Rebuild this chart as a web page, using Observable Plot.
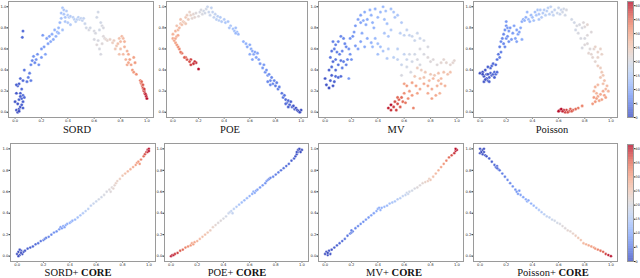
<!DOCTYPE html>
<html><head><meta charset="utf-8">
<script src="https://cdn.jsdelivr.net/npm/d3@7"></script>
<script src="https://cdn.jsdelivr.net/npm/@observablehq/plot@0.6"></script>
<style>
body{margin:0;background:#fff;}
#root{position:relative;width:640px;height:278px;overflow:hidden;}
.title{position:absolute;font-family:"Liberation Serif",serif;font-size:10.5px;line-height:10.5px;color:#111;white-space:nowrap;transform:translateX(-50%);}
</style></head><body><div id="root"></div><script>
// ---- data: [x, y, colour value] ----
const sord = [[0.01,0.02,1],[0.02,0.0,0],[0.03,0.03,1],[0.04,0.05,1],[0.02,0.08,1],[0.05,0.07,2],[0.06,0.1,2],[0.0,0.1,1],[0.03,0.12,2],[0.05,0.13,2],[0.04,0.18,2],[0.01,0.18,1],[0.02,0.25,2],[0.03,0.27,2],[0.05,0.22,3],[0.06,0.16,3],[0.04,0.32,3],[0.06,0.3,3],[0.07,0.4,4],[0.01,0.26,2],[0.04,0.15,2],[0.07,0.14,3],[0.03,0.01,0],[0.06,0.04,2],
[0.06,0.77,3],[0.055,0.71,3],
[0.09,0.29,4],[0.1,0.33,5],[0.12,0.3,5],[0.11,0.37,5],[0.12,0.45,6],[0.13,0.49,6],[0.15,0.47,6],[0.14,0.53,7],[0.16,0.5,7],[0.17,0.55,7],[0.18,0.45,7],[0.2,0.6,8],[0.2,0.52,8],[0.21,0.73,8],[0.22,0.62,8],[0.23,0.55,9],[0.25,0.65,9],[0.24,0.7,9],[0.26,0.72,9],[0.27,0.67,10],[0.28,0.74,10],[0.29,0.69,10],[0.3,0.78,11],[0.31,0.72,11],[0.32,0.76,11],[0.33,0.8,12],[0.34,0.85,12],[0.33,0.75,12],[0.35,0.89,13],[0.36,0.78,13],
[0.35,0.94,13],[0.36,0.99,14],[0.37,0.97,14],[0.38,0.9,14],[0.38,0.86,14],[0.39,0.96,15],[0.4,0.92,15],[0.41,0.9,15],[0.42,0.91,15],[0.42,0.83,15],[0.44,0.9,16],[0.45,0.88,16],[0.46,0.86,16],[0.47,0.88,16],[0.48,0.9,16],[0.49,0.88,17],[0.5,0.89,17],[0.51,0.87,17],[0.52,0.89,17],[0.53,0.84,18],[0.37,0.93,14],[0.4,0.85,15],
[0.54,0.8,19],[0.56,0.78,20],[0.57,0.8,19],[0.6,0.77,20],[0.61,0.75,20],[0.62,0.9,19],[0.63,0.95,19],[0.63,0.68,20],[0.64,0.6,20],[0.65,0.55,20],[0.66,0.65,21],[0.66,0.82,20],[0.64,0.78,19],[0.67,0.72,21],[0.68,0.7,21],[0.69,0.69,22],[0.62,0.64,21],[0.6,0.69,20],[0.65,0.85,19],[0.67,0.8,20],
[0.7,0.68,22],[0.72,0.69,23],[0.74,0.66,24],[0.75,0.68,24],[0.76,0.6,25],[0.77,0.63,25],[0.78,0.65,26],[0.79,0.7,26],[0.8,0.67,27],[0.8,0.6,26],[0.81,0.72,27],[0.82,0.7,27],[0.83,0.67,28],[0.82,0.55,27],[0.83,0.62,28],[0.84,0.5,28],[0.85,0.58,28],[0.85,0.45,29],[0.86,0.55,29],[0.87,0.5,30],[0.88,0.45,30],[0.89,0.4,31],[0.9,0.52,30],[0.9,0.38,31],[0.91,0.47,31],[0.92,0.36,32],[0.79,0.55,26],[0.86,0.47,29],
[0.95,0.3,34],[0.955,0.28,35],[0.96,0.27,35],[0.965,0.25,36],[0.97,0.23,37],[0.975,0.21,38],[0.98,0.2,38],[0.985,0.18,39],[0.99,0.17,40],[0.995,0.15,40],[1.0,0.13,41],[0.96,0.29,35],[0.97,0.26,36],[0.98,0.22,38]];

const poe = [[0.2,0.41,41],[0.18,0.47,40],[0.17,0.48,39],[0.16,0.46,39],[0.14,0.45,38],[0.14,0.5,38],[0.13,0.48,37],[0.11,0.5,37],[0.1,0.52,36],[0.09,0.52,36],[0.07,0.56,35],[0.06,0.57,34],[0.05,0.6,33],[0.04,0.62,32],[0.03,0.64,31],[0.02,0.66,30],[0.01,0.68,30],[0.0,0.7,29],[0.02,0.7,29],[0.03,0.72,29],[0.0,0.74,28],[0.02,0.77,28],[0.04,0.78,27],[0.05,0.8,27],[0.03,0.82,26],[0.06,0.84,26],[0.07,0.83,26],[0.08,0.86,25],[0.09,0.85,25],[0.1,0.9,25],[0.1,0.84,25],[0.12,0.88,24],[0.11,0.92,24],[0.06,0.88,26],[0.04,0.73,29],
[0.13,0.95,23],[0.14,0.92,23],[0.15,0.89,22],[0.16,0.93,22],[0.17,0.9,22],[0.18,0.94,21],[0.2,0.91,21],[0.21,0.95,20],[0.22,0.97,20],[0.23,0.93,20],[0.24,0.96,19],[0.25,0.94,19],[0.26,0.98,19],[0.27,1.0,18],[0.28,0.95,18],[0.29,0.92,18],[0.3,0.99,17],[0.31,0.95,17],[0.32,0.9,17],[0.33,0.93,17],[0.34,0.88,16],[0.35,0.91,16],[0.36,0.87,16],
[0.37,0.9,15],[0.38,0.86,15],[0.4,0.88,15],[0.41,0.85,14],[0.43,0.86,14],[0.45,0.82,14],[0.44,0.8,14],[0.47,0.79,13],[0.48,0.77,13],[0.49,0.8,13],[0.5,0.76,12],[0.51,0.74,12],[0.49,0.75,12],
[0.55,0.67,11],[0.57,0.65,11],[0.58,0.62,10],[0.6,0.64,10],[0.61,0.6,10],[0.62,0.58,10],[0.63,0.55,9],[0.64,0.57,9],[0.65,0.52,9],[0.66,0.56,9],[0.6,0.55,10],[0.62,0.5,9],[0.67,0.5,9],[0.68,0.46,8],[0.7,0.42,8],[0.71,0.45,8],[0.72,0.38,7],[0.73,0.4,7],[0.74,0.35,7],[0.75,0.36,7],[0.76,0.3,6],[0.77,0.33,6],[0.78,0.27,6],[0.79,0.3,6],[0.8,0.25,5],[0.81,0.28,5],[0.82,0.22,5],[0.83,0.24,5],[0.76,0.26,6],[0.74,0.29,6],
[0.85,0.18,4],[0.86,0.14,4],[0.87,0.16,4],[0.88,0.12,3],[0.89,0.09,3],[0.9,0.11,3],[0.91,0.07,2],[0.92,0.1,2],[0.93,0.05,2],[0.94,0.06,1],[0.95,0.03,1],[0.96,0.04,1],[0.97,0.02,0],[0.98,0.01,0],[1.0,0.02,0],[0.99,0.0,0],[0.9,0.05,2],[0.88,0.08,3]];

const mv = [[0.0,0.32,1],[0.01,0.26,1],[0.03,0.23,0],[0.04,0.3,2],[0.05,0.35,2],[0.06,0.25,1],[0.07,0.29,2],[0.08,0.34,3],[0.1,0.33,3],[0.12,0.34,3],[0.03,0.4,2],[0.05,0.43,3],[0.08,0.4,3],[0.1,0.45,4],[0.06,0.48,3],[0.04,0.52,4],[0.08,0.5,4],[0.12,0.49,4],[0.14,0.48,5],[0.16,0.45,5],[0.05,0.58,4],[0.07,0.6,5],[0.09,0.57,5],[0.11,0.55,5],[0.13,0.58,6],[0.08,0.64,5],[0.1,0.67,6],[0.12,0.72,6],[0.14,0.7,6],[0.15,0.65,6],[0.16,0.62,6],[0.18,0.6,7],[0.19,0.55,7],[0.17,0.5,6],[0.2,0.5,7],[0.18,0.32,8],[0.06,0.67,5],[0.13,0.42,5],
[0.19,0.7,7],[0.21,0.72,7],[0.22,0.76,8],[0.23,0.63,8],[0.25,0.6,9],[0.23,0.82,8],[0.25,0.88,9],[0.27,0.85,9],[0.27,0.92,9],[0.29,0.87,10],[0.3,0.95,10],[0.31,0.83,10],[0.32,0.88,10],[0.34,0.97,11],[0.35,0.92,11],[0.36,0.85,11],[0.38,0.98,11],[0.37,0.8,11],[0.4,0.9,12],[0.42,0.95,12],[0.44,1.0,12],[0.46,0.96,13],[0.45,0.88,13],[0.47,0.84,13],[0.5,0.98,13],[0.52,0.95,14],[0.53,0.9,14],[0.55,0.92,14],[0.28,0.75,10],[0.32,0.7,10],[0.35,0.66,11],[0.3,0.62,10],[0.27,0.67,9],
[0.38,0.7,12],[0.4,0.65,13],[0.42,0.62,13],[0.36,0.62,12],[0.4,0.55,13],[0.44,0.58,14],[0.45,0.75,14],[0.48,0.72,14],[0.5,0.78,15],[0.48,0.6,15],[0.47,0.51,15],[0.52,0.52,16],[0.55,0.6,16],[0.57,0.75,16],[0.6,0.73,17],[0.58,0.85,15],[0.62,0.78,17],[0.64,0.73,17],[0.66,0.72,18],[0.7,0.75,18],[0.72,0.7,18],[0.68,0.68,18],[0.6,0.55,17],[0.55,0.5,17],[0.58,0.45,18],[0.62,0.5,18],
[0.64,0.55,19],[0.66,0.48,19],[0.68,0.55,19],[0.7,0.5,20],[0.72,0.45,20],[0.65,0.38,20],[0.62,0.43,19],[0.75,0.55,20],[0.78,0.52,21],[0.8,0.48,21],[0.82,0.5,21],[0.85,0.45,21],[0.88,0.47,22],[0.9,0.5,22],[0.92,0.47,22],[0.95,0.45,22],[0.97,0.47,22],[0.98,0.49,22],[0.75,0.68,19],[0.78,0.62,20],[0.72,0.6,20],[0.58,0.35,20],
[0.7,0.42,24],[0.73,0.4,24],[0.76,0.38,25],[0.8,0.36,25],[0.83,0.35,25],[0.86,0.37,26],[0.9,0.38,26],[0.93,0.36,26],[0.95,0.38,26],[0.68,0.34,25],[0.72,0.32,26],[0.75,0.33,26],[0.79,0.3,27],[0.82,0.32,27],[0.86,0.3,27],[0.88,0.32,27],[0.91,0.25,28],[0.88,0.27,28],[0.85,0.25,28],[0.81,0.22,29],[0.78,0.25,29],[0.75,0.27,29],[0.72,0.22,29],[0.69,0.25,30],[0.66,0.28,30],[0.64,0.2,31],[0.62,0.25,31],[0.6,0.18,32],[0.66,0.16,31],[0.7,0.18,30],[0.78,0.18,29],[0.81,0.13,30],[0.84,0.16,29],[0.87,0.18,28],[0.63,0.13,32],[0.6,0.27,30],
[0.5,0.07,41],[0.48,0.04,40],[0.5,0.02,39],[0.52,0.05,38],[0.53,0.1,37],[0.55,0.08,37],[0.56,0.12,36],[0.54,0.02,38],[0.57,0.05,36],[0.58,0.14,35],[0.59,0.1,35],[0.55,0.14,35],[0.61,0.09,34],[0.67,0.04,33]];

const poisson = [[0.0,0.37,0],[0.02,0.38,0],[0.03,0.34,1],[0.04,0.4,1],[0.05,0.36,1],[0.06,0.3,1],[0.07,0.33,2],[0.08,0.37,2],[0.09,0.35,2],[0.1,0.36,2],[0.11,0.38,3],[0.12,0.36,3],[0.05,0.32,1],[0.03,0.29,1],[0.07,0.29,2],[0.08,0.42,2],[0.09,0.44,3],[0.1,0.46,3],[0.12,0.45,3],[0.06,0.43,2],[0.04,0.31,1],[0.11,0.33,2],[0.13,0.38,3],[0.02,0.36,0],[0.06,0.36,1],
[0.13,0.5,4],[0.14,0.55,4],[0.15,0.52,5],[0.16,0.57,5],[0.15,0.62,5],[0.16,0.67,6],[0.17,0.7,6],[0.18,0.65,6],[0.19,0.62,6],[0.2,0.7,7],[0.21,0.72,7],[0.22,0.67,7],[0.18,0.74,6],[0.19,0.78,7],[0.2,0.82,7],[0.2,0.86,8],[0.21,0.8,8],[0.22,0.77,8],[0.23,0.8,8],[0.25,0.75,8],[0.24,0.69,8],[0.27,0.7,9],[0.28,0.67,9],[0.29,0.74,9],[0.3,0.76,9],[0.31,0.8,10],[0.32,0.86,10],[0.33,0.88,10],[0.32,0.69,10],[0.34,0.87,11],[0.26,0.82,9],[0.28,0.78,9],
[0.35,0.9,11],[0.36,0.95,12],[0.37,0.88,12],[0.39,0.92,12],[0.4,0.9,13],[0.41,0.87,13],[0.42,0.95,13],[0.43,0.92,14],[0.44,0.97,14],[0.45,0.93,14],[0.46,0.97,15],[0.47,0.9,15],[0.48,0.94,15],[0.49,0.97,15],[0.5,0.92,16],[0.51,0.96,16],[0.52,0.99,16],[0.53,0.93,16],[0.54,1.0,17],[0.55,0.95,17],[0.56,0.92,17],[0.57,0.97,17],[0.59,0.94,18],[0.6,0.99,18],[0.61,0.93,18],[0.62,0.97,18],[0.63,0.95,19],[0.64,0.98,19],[0.65,0.92,19],[0.66,0.97,20],[0.38,0.86,12],[0.45,0.88,14],
[0.7,0.88,19],[0.72,0.85,19],[0.74,0.82,20],[0.76,0.83,20],[0.73,0.78,19],[0.75,0.75,20],[0.78,0.8,20],[0.79,0.85,21],[0.8,0.81,21],[0.77,0.7,20],[0.8,0.7,20],[0.82,0.73,21],[0.8,0.64,21],[0.78,0.61,20],[0.82,0.65,21],[0.84,0.6,21],[0.83,0.56,22],[0.85,0.55,22],[0.87,0.6,22],[0.88,0.62,23],[0.9,0.57,23],[0.86,0.52,22],[0.88,0.48,22],[0.9,0.52,23],[0.92,0.6,23],[0.93,0.55,23],[0.85,0.76,21],[0.82,0.83,22],
[0.9,0.44,24],[0.92,0.42,24],[0.93,0.38,25],[0.94,0.35,25],[0.92,0.33,25],[0.95,0.3,26],[0.97,0.25,27],[0.96,0.22,27],[0.98,0.2,28],[0.94,0.27,26],[0.9,0.26,27],[0.88,0.24,28],[0.87,0.2,28],[0.89,0.18,28],[0.9,0.15,29],[0.92,0.17,29],[0.94,0.2,29],[0.95,0.16,30],[0.93,0.12,30],[0.91,0.11,30],[0.88,0.1,31],[0.87,0.14,31],[0.86,0.08,31],[0.96,0.14,30],[0.89,0.13,30],
[0.78,0.06,33],[0.75,0.04,34],[0.73,0.03,35],[0.71,0.02,36],[0.69,0.03,36],[0.68,0.01,37],[0.66,0.02,38],[0.65,0.0,38],[0.64,0.02,39],[0.63,0.01,40],[0.61,0.02,40],[0.6,0.01,41],[0.62,0.03,41],[0.67,0.0,37],[0.7,0.01,36]];

const sordCore = [[0.0,0.02,0],[0.01,0.04,0],[0.02,0.01,0],[0.03,0.05,1],[0.04,0.02,0],[0.02,0.06,1],[0.05,0.04,1],[0.01,0.0,0],[0.03,0.03,0],[0.06,0.05,1],[0.08,0.07,2],[0.1,0.08,2],[0.12,0.09,3],[0.14,0.11,3],[0.16,0.12,4],[0.18,0.14,4],[0.2,0.15,5],[0.21,0.16,5],[0.22,0.17,5],[0.24,0.18,6],[0.26,0.2,6],[0.28,0.22,7],[0.3,0.23,7],[0.32,0.25,8],[0.33,0.27,8],[0.34,0.26,8],[0.35,0.28,9],[0.36,0.27,9],[0.37,0.29,9],[0.38,0.3,10],[0.4,0.31,10],[0.41,0.32,11],[0.42,0.33,11],[0.44,0.34,12],[0.46,0.36,13],[0.48,0.38,14],[0.5,0.4,15],[0.52,0.42,16],[0.54,0.44,16],[0.56,0.47,17],[0.58,0.49,18],[0.6,0.51,18],[0.62,0.53,19],[0.64,0.55,19],[0.66,0.57,20],[0.68,0.6,20],[0.7,0.62,21],[0.71,0.6,21],[0.72,0.64,21],[0.73,0.63,22],[0.74,0.66,22],[0.75,0.68,23],[0.76,0.7,23],[0.78,0.72,24],[0.8,0.75,25],[0.82,0.77,26],[0.84,0.79,27],[0.86,0.81,28],[0.88,0.83,29],[0.9,0.85,30],[0.91,0.87,31],[0.92,0.88,31],[0.93,0.86,31],[0.94,0.9,33],[0.96,0.93,35],[0.97,0.95,37],[0.98,0.97,38],[0.99,0.99,40],[1.0,1.0,41],[0.99,0.97,39],[1.0,0.98,41]];

const poeCore = [[0.0,0.0,41],[0.01,0.01,41],[0.02,0.01,40],[0.03,0.02,39],[0.05,0.03,38],[0.07,0.05,36],[0.09,0.06,35],[0.11,0.08,33],[0.13,0.09,32],[0.15,0.1,31],[0.16,0.12,30],[0.17,0.11,30],[0.18,0.13,29],[0.2,0.14,28],[0.22,0.16,27],[0.24,0.18,26],[0.26,0.2,26],[0.28,0.22,25],[0.3,0.24,24],[0.32,0.27,23],[0.34,0.29,22],[0.36,0.31,21],[0.38,0.33,21],[0.4,0.35,20],[0.42,0.37,19],[0.44,0.4,18],[0.45,0.41,18],[0.46,0.42,17],[0.47,0.4,17],[0.48,0.44,16],[0.5,0.46,15],[0.52,0.48,14],[0.54,0.5,13],[0.56,0.52,12],[0.58,0.54,12],[0.6,0.56,11],[0.62,0.58,10],[0.63,0.6,10],[0.64,0.59,10],[0.65,0.61,9],[0.66,0.62,9],[0.68,0.64,8],[0.7,0.66,8],[0.72,0.68,7],[0.73,0.7,7],[0.74,0.71,7],[0.75,0.72,6],[0.76,0.73,6],[0.78,0.74,6],[0.8,0.76,5],[0.82,0.78,5],[0.84,0.8,4],[0.86,0.82,4],[0.88,0.84,3],[0.9,0.86,3],[0.92,0.89,2],[0.94,0.91,2],[0.95,0.93,1],[0.96,0.95,1],[0.97,0.97,0],[0.98,0.98,0],[0.99,0.99,0],[1.0,0.99,0],[0.97,0.99,0],[0.99,0.97,0],[0.96,0.97,1],[0.98,1.0,0]];

const mvCore = [[0.0,0.02,0],[0.01,0.04,0],[0.02,0.01,0],[0.03,0.05,1],[0.04,0.02,1],[0.02,0.03,0],[0.05,0.06,1],[0.07,0.08,2],[0.09,0.1,2],[0.11,0.12,3],[0.13,0.14,3],[0.15,0.16,4],[0.17,0.19,4],[0.19,0.21,5],[0.2,0.22,5],[0.21,0.23,5],[0.2,0.24,5],[0.23,0.26,6],[0.25,0.28,6],[0.27,0.3,7],[0.29,0.32,7],[0.31,0.34,8],[0.33,0.36,8],[0.35,0.38,9],[0.37,0.4,9],[0.39,0.42,10],[0.4,0.44,10],[0.41,0.45,10],[0.42,0.43,11],[0.43,0.45,11],[0.45,0.46,12],[0.47,0.47,12],[0.49,0.49,13],[0.51,0.5,14],[0.53,0.51,14],[0.55,0.53,15],[0.57,0.54,16],[0.59,0.56,17],[0.61,0.57,17],[0.62,0.59,18],[0.63,0.58,18],[0.64,0.6,19],[0.66,0.61,19],[0.68,0.63,20],[0.7,0.64,21],[0.72,0.66,21],[0.74,0.68,22],[0.76,0.69,23],[0.78,0.7,24],[0.79,0.72,24],[0.8,0.71,25],[0.82,0.74,26],[0.84,0.77,27],[0.86,0.8,28],[0.88,0.83,30],[0.9,0.86,31],[0.92,0.89,33],[0.94,0.92,35],[0.96,0.94,37],[0.98,0.96,39],[0.99,0.98,40],[1.0,0.99,41],[0.99,1.0,41]];

const poissonCore = [[0.0,1.0,0],[0.01,0.98,0],[0.02,0.99,0],[0.03,0.97,0],[0.0,0.96,0],[0.02,0.95,1],[0.04,0.94,1],[0.01,0.97,0],[0.03,1.0,0],[0.05,0.93,1],[0.07,0.91,2],[0.09,0.88,2],[0.11,0.85,3],[0.12,0.83,3],[0.13,0.84,3],[0.14,0.81,4],[0.15,0.8,4],[0.13,0.82,3],[0.17,0.77,5],[0.19,0.74,5],[0.21,0.71,6],[0.23,0.68,6],[0.25,0.65,7],[0.27,0.62,7],[0.28,0.6,8],[0.29,0.58,8],[0.3,0.61,8],[0.31,0.57,9],[0.33,0.55,9],[0.35,0.53,10],[0.36,0.51,10],[0.37,0.52,10],[0.39,0.49,11],[0.41,0.47,12],[0.43,0.45,13],[0.45,0.43,14],[0.47,0.41,15],[0.49,0.39,16],[0.51,0.37,17],[0.53,0.36,17],[0.55,0.34,18],[0.57,0.33,19],[0.59,0.31,19],[0.61,0.3,20],[0.63,0.28,21],[0.65,0.26,21],[0.67,0.24,22],[0.69,0.23,22],[0.71,0.21,23],[0.73,0.19,24],[0.75,0.17,25],[0.77,0.15,26],[0.79,0.12,27],[0.81,0.11,28],[0.83,0.1,29],[0.85,0.09,30],[0.87,0.08,31],[0.88,0.07,31],[0.9,0.06,33],[0.92,0.05,35],[0.94,0.04,36],[0.96,0.02,38],[0.98,0.01,40],[1.0,0.0,41]];

const topTitles = ["SORD", "POE", "MV", "Poisson"];
const bottomTitles = ["SORD+ <b>CORE</b>", "POE+ <b>CORE</b>", "MV+ <b>CORE</b>", "Poisson+ <b>CORE</b>"];
const axisTicks = [0, 0.2, 0.4, 0.6, 0.8, 1.0];
const colorTicks = [0, 5, 10, 15, 20, 25, 30, 35, 40];
const colorMax = 41.5;

// ---- rendering ----
const coolwarm = d3.interpolateRgbBasis(["#3b4cc0","#6282ea","#8db0fe","#b8d0f9","#dddddd","#f5c4ad","#f49a7b","#de604d","#b40426"]);
const root = document.getElementById("root");
const colorScale = {type: "linear", domain: [0, colorMax], interpolate: coolwarm};
const axisStyle = {fontSize: "3.7px", fontFamily: "DejaVu Sans", color: "#222", background: "transparent", overflow: "visible"};

function place(el, left, top) {
  el.style.position = "absolute";
  el.style.left = left + "px";
  el.style.top = top + "px";
  root.appendChild(el);
}

function panel(data, left, top, right, bottom, r) {
  const mL = 8, mR = 2, mT = 2, mB = 7;
  const p = Plot.plot({
    width: right - left + mL + mR, height: bottom - top + mT + mB,
    marginLeft: mL, marginRight: mR, marginTop: mT, marginBottom: mB,
    style: axisStyle,
    x: {domain: [-0.05, 1.05], ticks: axisTicks, tickFormat: d3.format(".1f"), label: null, tickSize: 1.5, tickPadding: 0.8},
    y: {domain: [-0.05, 1.05], ticks: axisTicks, tickFormat: d3.format(".1f"), label: null, tickSize: 1.5, tickPadding: 0.6},
    color: colorScale,
    marks: [
      Plot.dot(data, {x: d => d[0], y: d => d[1], fill: d => d[2], r, stroke: "white", strokeWidth: 0.35}),
      Plot.frame({stroke: "#9a9a9a"})
    ]
  });
  place(p, left - mL, top - mT);
}

function colorbar(left, top, right, bottom) {
  const mL = 0, mR = 8, mT = 2, mB = 2;
  const bands = d3.range(0, colorMax, 0.25);
  const p = Plot.plot({
    width: right - left + mL + mR, height: bottom - top + mT + mB,
    marginLeft: mL, marginRight: mR, marginTop: mT, marginBottom: mB,
    style: {...axisStyle, fontSize: "3.4px"},
    y: {domain: [0, colorMax], ticks: colorTicks, axis: "right", label: null, tickSize: 1.5, tickPadding: 0.5},
    color: colorScale,
    marks: [
      Plot.rectY(bands, {y1: d => d, y2: d => d + 0.25, fill: d => d + 0.125}),
      Plot.frame({stroke: "#9a9a9a"})
    ]
  });
  place(p, left - mL, top - mT);
}

const topData = [sord, poe, mv, poisson];
const botData = [sordCore, poeCore, mvCore, poissonCore];
const topL = [8, 166, 318, 473], topR = [153, 307, 463, 617];
const botL = [10, 164, 318, 473], botR = [155, 308, 463, 617];
const topC = [77, 230, 396, 552], botC = [78, 237, 394, 553];

topData.forEach((d, i) => panel(d, topL[i], 1, topR[i], 117, 1.6));
botData.forEach((d, i) => panel(d, botL[i], 143, botR[i], 261, 1.4));
colorbar(627, 1, 633, 117);
colorbar(627, 144, 633, 261);

function title(html, cx, top) {
  const t = document.createElement("div");
  t.className = "title";
  t.innerHTML = html;
  t.style.left = cx + "px";
  t.style.top = top + "px";
  root.appendChild(t);
}
topTitles.forEach((s, i) => title(s, topC[i], 125));
bottomTitles.forEach((s, i) => title(s, botC[i], 268));
</script></body></html>
